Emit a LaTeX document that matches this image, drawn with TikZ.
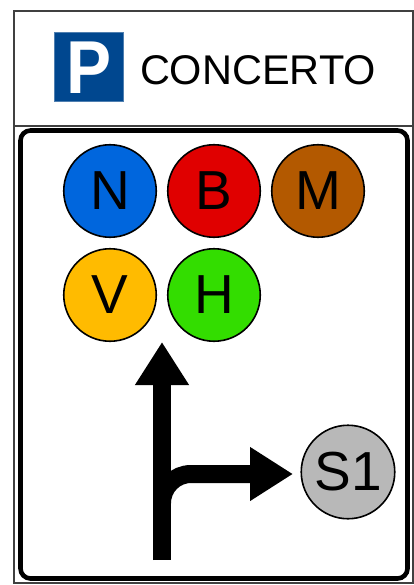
\documentclass[tikz,border=0pt]{standalone}
\usepackage{fontspec}
\setmainfont{Liberation Sans}
\usetikzlibrary{arrows.meta}
\definecolor{parkblue}{HTML}{00478F}
\definecolor{parkedge}{HTML}{4F7FB0}
\definecolor{frameline}{HTML}{404040}
\tikzset{
  frame/.style={draw=frameline,line width=1.2pt},
  token/.style={circle,draw=black,line width=1.6pt,minimum size=92.5pt,inner sep=0pt,font=\fontsize{55}{55}\selectfont,text=black},
  route/.style={line width=18pt,draw=black,-{Triangle[length=43pt,width=51pt]}},
}
\begin{document}
\begin{tikzpicture}[x=1pt,y=-1pt]
\useasboundingbox (0,0) rectangle (414,585);
\fill[white] (0,0) rectangle (414,585);
\draw[frame] (14,11) rectangle (413,583);
\draw[frame] (14,126) -- (413,126);
\draw[line width=4.6pt,rounded corners=10pt] (20.5,130.5) rectangle (407.5,578.5);
% parking sign
\node[draw=parkedge,fill=parkblue,line width=1pt,minimum size=69pt,inner sep=0pt] (sign) at (89,67) {};
\node[text=white,font=\bfseries\fontsize{75}{75}\selectfont,inner sep=0pt,xscale=0.9,transform shape] (plabel) at (89,67.5) {P};
\node[font=\fontsize{41.5}{42}\selectfont,inner sep=0pt,text=black] (title) at (258,70) {CONCERTO};
% tokens
\node[token,fill={rgb,255:red,0;green,102;blue,221}] (n) at (110,191) {N};
\node[token,fill={rgb,255:red,224;green,0;blue,0}] (b) at (214,191) {B};
\node[token,fill={rgb,255:red,179;green,89;blue,0}] (m) at (318,191) {M};
\node[token,fill={rgb,255:red,255;green,187;blue,0}] (v) at (110,295) {V};
\node[token,fill={rgb,255:red,51;green,221;blue,0}] (h) at (214,295) {H};
\node[token,minimum size=93.5pt,fill={rgb,255:red,184;green,184;blue,184}] (s) at (348,472) {S1};
% arrows
\coordinate (base) at (162,560);
\coordinate (bend) at (162,503);
\coordinate (uptip) at (162,342);
\coordinate (righttip) at (293,474);
\draw[route] (base) -- (uptip);
\draw[route] (bend) arc[start angle=180,end angle=90,radius=29pt] -- (righttip);
\end{tikzpicture}
\end{document}
